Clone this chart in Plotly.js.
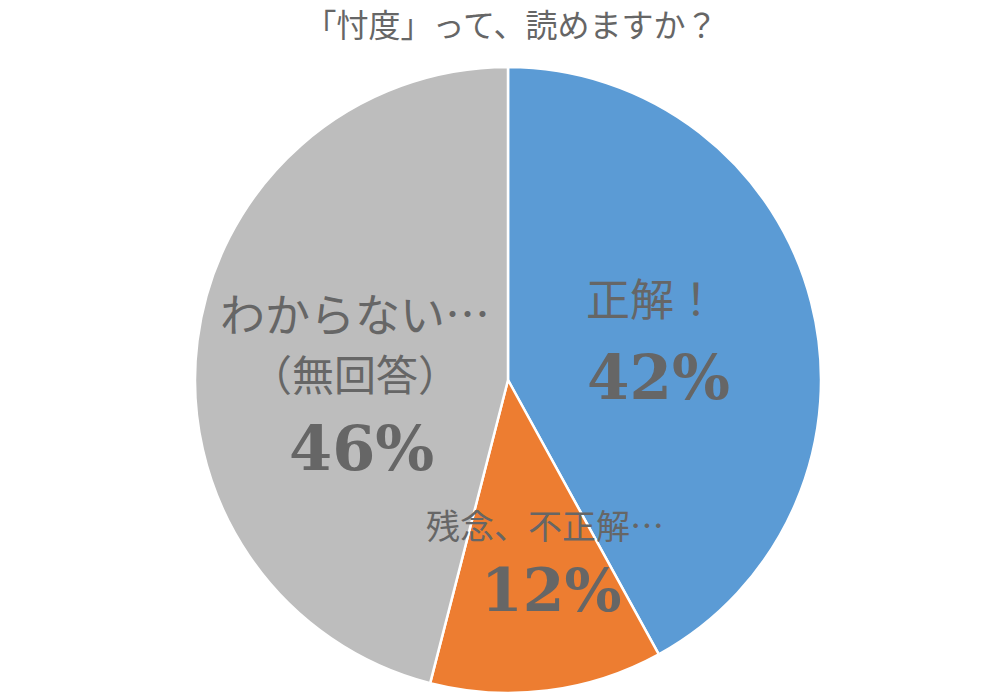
<!DOCTYPE html>
<html>
<head>
<meta charset="utf-8">
<script src="https://cdn.plot.ly/plotly-3.0.1.min.js"></script>
<style>html,body{margin:0;padding:0;background:#fff}#chart{width:1000px;height:700px}</style>
</head>
<body>
<div id="chart"></div>
<script>
const chartTitle = '「忖度」って、読めますか？';
const categories = ['正解！', '残念、不正解…', 'わからない…（無回答）'];
const labelLines = [['正解！'], ['残念、不正解…'], ['わからない…', '（無回答）']];
const values = [42, 12, 46];
const colors = ['#5B9BD5', '#ED7D31', '#BDBDBD'];

const total = values.reduce((a, b) => a + b, 0);
const pct = values.map(v => Math.round(v / total * 100) + '%');

// label placement (pixel positions in the 1000x700 page) and sizes per slice
const labelPos = [
  {x: 652, y: [297], py: 377, fs: [44], ps: 61},
  {x: 545, y: [524], py: 590, fs: [34], ps: 60},
  {x: 355, y: [312, 372], py: 448, fs: [45, 42], ps: 62}
];

const txtColor = '#666666';
const jp = '"Noto Sans CJK JP", sans-serif';
const serif = '"DejaVu Serif", "Liberation Serif", serif';

const annotations = [];
labelLines.forEach((lines, i) => {
  const p = labelPos[i];
  lines.forEach((ln, j) => {
    annotations.push({
      text: ln, showarrow: false, xref: 'paper', yref: 'paper',
      x: p.x / 1000, y: 1 - p.y[j] / 700, xanchor: 'center', yanchor: 'middle',
      font: {family: jp, size: p.fs[j], color: txtColor}
    });
  });
  annotations.push({
    text: '<b>' + pct[i] + '</b>', showarrow: false, xref: 'paper', yref: 'paper',
    x: p.x / 1000 + 0.006, y: 1 - p.py / 700, xanchor: 'center', yanchor: 'middle',
    font: {family: serif, size: p.ps, color: txtColor}
  });
});

const data = [{
  type: 'pie',
  labels: categories,
  values: values,
  marker: {colors: colors, line: {color: '#ffffff', width: 2.5}},
  sort: false,
  direction: 'clockwise',
  rotation: 0,
  textinfo: 'none',
  hoverinfo: 'label+percent',
  domain: {x: [0.195, 0.821], y: [7 / 700, 1 - 67 / 700]}
}];

const layout = {
  width: 1000, height: 700,
  margin: {l: 0, r: 0, t: 0, b: 0},
  paper_bgcolor: '#ffffff',
  showlegend: false,
  title: {
    text: chartTitle, x: 0.511, xanchor: 'center', y: 1 - 26 / 700, yanchor: 'middle',
    yref: 'container', xref: 'container',
    font: {family: jp, size: 32, color: txtColor}
  },
  annotations: annotations
};

Plotly.newPlot('chart', data, layout, {displayModeBar: false, staticPlot: true});
</script>
</body>
</html>
